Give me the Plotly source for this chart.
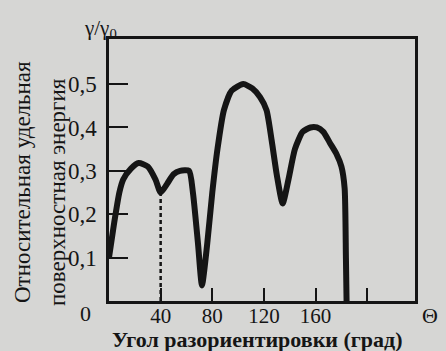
import plotly.graph_objects as go

# Data
angle = [0, 4, 8, 11, 17, 23, 30, 36, 40, 45, 50, 55, 62, 65, 69, 72, 76, 80, 84, 89, 95, 104, 111, 117, 122, 126, 130, 134.5, 139, 144, 150, 156, 161, 166, 171, 176, 180, 182.5, 183.5, 184]
energy = [0.1, 0.18, 0.25, 0.28, 0.305, 0.318, 0.31, 0.28, 0.25, 0.27, 0.292, 0.3, 0.3, 0.25, 0.13, 0.036, 0.13, 0.25, 0.35, 0.44, 0.485, 0.5, 0.49, 0.47, 0.44, 0.37, 0.29, 0.225, 0.28, 0.35, 0.39, 0.4, 0.4, 0.39, 0.365, 0.34, 0.31, 0.26, 0.1, 0]
dash_x = [40, 40]
dash_y = [0, 0.25]
x_tickvals = [40, 80, 120, 160, 200]
x_ticktext = ["40", "80", "120", "160", ""]
y_tickvals = [0.1, 0.2, 0.3, 0.4, 0.5]
y_ticktext = ["0,1", "0,2", "0,3", "0,4", "0,5"]

FONT = "Liberation Serif, Times New Roman, DejaVu Serif, serif"
INK = "#151515"
BG = "#d6d6d4"

W, H = 446, 351
L, R, T, B = 109, 31, 39, 50
PW, PH = W - L - R, H - T - B

fig = go.Figure()
fig.add_trace(go.Scatter(x=dash_x, y=dash_y, mode="lines",
                         line=dict(color=INK, width=2.5, dash="4px,3px"), hoverinfo="skip"))
fig.add_trace(go.Scatter(x=angle, y=energy, mode="lines",
                         line=dict(color=INK, width=6, shape="spline", smoothing=0.6)))

fig.update_layout(
    width=W, height=H,
    margin=dict(l=L, r=R, t=T, b=B),
    paper_bgcolor=BG, plot_bgcolor=BG,
    showlegend=False,
    font=dict(family=FONT, color=INK, size=22),
)
fig.update_xaxes(range=[0, 237], showgrid=False, zeroline=False,
                 showline=True, linecolor=INK, linewidth=2.5, mirror=True,
                 ticks="inside", ticklen=13, tickwidth=2, tickcolor=INK,
                 tickvals=x_tickvals, ticktext=x_ticktext,
                 tickfont=dict(family=FONT, size=21, color=INK), ticklabelstandoff=-6)
fig.update_yaxes(range=[0, 0.604], showgrid=False, zeroline=False,
                 showline=True, linecolor=INK, linewidth=2.5, mirror=True,
                 ticks="inside", ticklen=19, tickwidth=2, tickcolor=INK,
                 tickvals=y_tickvals, ticktext=y_ticktext,
                 tickfont=dict(family=FONT, size=23, color=INK), ticklabelstandoff=5)

ann = [
    dict(text="0", x=85, y=313, size=22),
    dict(text="Θ", x=430, y=315, size=22),
    dict(text="γ/γ<sub>0</sub>", x=100, y=29, size=21),
    dict(text="<b>Угол разориентировки (град)</b>", x=257, y=339, size=22),
    dict(text="Относительная удельная", x=22, y=182, textangle=-90, size=23),
    dict(text="поверхностная энергия", x=57, y=192, textangle=-90, size=23),
]
for a in ann:
    fig.add_annotation(text=a["text"], x=(a["x"] - L) / PW, y=1 - (a["y"] - T) / PH,
                       xref="paper", yref="paper", xanchor="center", yanchor="middle",
                       showarrow=False, textangle=a.get("textangle", 0),
                       font=dict(family=FONT, size=a["size"], color=INK))

fig.write_html("out.html", config={"displayModeBar": False},
               post_script="document.body.style.margin='0';")
with open("out.html", encoding="utf-8") as f:
    html = f.read()
html = html.replace("<head>", "<head><style>html,body{margin:0;padding:0;overflow:hidden;}</style>", 1)
with open("out.html", "w", encoding="utf-8") as f:
    f.write(html)
